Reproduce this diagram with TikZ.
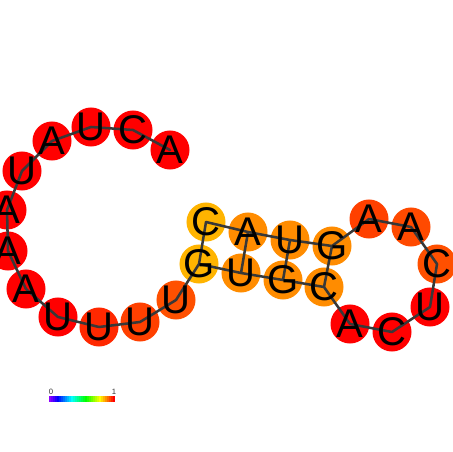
\documentclass[tikz,border=0pt]{standalone}
\usepackage{fontspec}
\setmainfont{Liberation Sans}
\usepackage{xcolor}
\usepackage{tikz}
\definecolor{RNARed}{HTML}{FF0000}
\definecolor{RNARedA}{HTML}{FF2800}
\definecolor{RNARedB}{HTML}{FF4000}
\definecolor{RNARedC}{HTML}{FF4A00}
\definecolor{RNARedD}{HTML}{FF5000}
\definecolor{RNAOrange}{HTML}{FF8C00}
\definecolor{RNAGold}{HTML}{FFB400}
\definecolor{RNALine}{HTML}{383838}
\tikzset{
  base/.style={circle,inner sep=0pt,minimum size=0.975cm},
  letter/.style={inner sep=0pt,font=\fontsize{28.5}{30}\selectfont},
  bond/.style={RNALine,line width=1.8pt,line cap=round,line join=round}
}

\begin{document}
\begin{tikzpicture}[x=0.025cm,y=-0.025cm]
\path[use as bounding box] (0,0) rectangle (452,452);
% bases
\node[base,fill=RNARed] (n1) at (170,150) {};
\node[base,fill=RNARed] (n2) at (133,130) {};
\node[base,fill=RNARed] (n3) at (91,127) {};
\node[base,fill=RNARed] (n4) at (52,141) {};
\node[base,fill=RNARed] (n5) at (22,171) {};
\node[base,fill=RNARed] (n6) at (7,210) {};
\node[base,fill=RNARed] (n7) at (8,251) {};
\node[base,fill=RNARed] (n8) at (26,289) {};
\node[base,fill=RNARed] (n9) at (58,317) {};
\node[base,fill=RNARedA] (n10) at (99,327) {};
\node[base,fill=RNARedB] (n11) at (140,322) {};
\node[base,fill=RNARedD] (n12) at (176,300) {};
\node[base,fill=RNAGold] (n13) at (199,264) {};
\node[base,fill=RNAOrange] (n14) at (241,273) {};
\node[base,fill=RNAOrange] (n15) at (283,280) {};
\node[base,fill=RNAOrange] (n16) at (324,287) {};
\node[base,fill=RNARed] (n17) at (350,324) {};
\node[base,fill=RNARed] (n18) at (392,332) {};
\node[base,fill=RNARed] (n19) at (430,307) {};
\node[base,fill=RNARedD] (n20) at (437,264) {};
\node[base,fill=RNARedC] (n21) at (411,227) {};
\node[base,fill=RNARedB] (n22) at (369,219) {};
\node[base,fill=RNAOrange] (n23) at (332,246) {};
\node[base,fill=RNAOrange] (n24) at (290,240) {};
\node[base,fill=RNAOrange] (n25) at (248,232) {};
\node[base,fill=RNAGold] (n26) at (206,222) {};
% backbone
\draw[bond] (n1.center) \foreach \k in {2,...,26} { -- (n\k.center) };
% pairs
\draw[bond] (n13.center) -- (n26.center);
\draw[bond] (n14.center) -- (n25.center);
\draw[bond] (n15.center) -- (n24.center);
\draw[bond] (n16.center) -- (n23.center);
% letters
\foreach \k/\b in {1/A,2/C,3/U,4/A,5/U,6/A,7/A,8/A,9/U,10/U,11/U,12/U,13/G,
  14/U,15/G,16/C,17/A,18/C,19/U,20/C,21/A,22/A,23/G,24/U,25/A,26/C}
  \node[letter] (t\k) at (n\k) {\b};
% colour bar
\foreach \i in {0,...,32} {
  \pgfmathsetmacro{\h}{0.76*(1-\i/32)}
  \definecolor{barcol}{hsb}{\h,1,1}
  \fill[barcol] (49+2*\i,396) rectangle (51.2+2*\i,402);
}
\node[font=\fontsize{5.5}{6}\selectfont,text=black!80] (lo) at (51,392) {0};
\node[font=\fontsize{5.5}{6}\selectfont,text=black!80] (hi) at (114,392) {1};
\end{tikzpicture}
\end{document}
